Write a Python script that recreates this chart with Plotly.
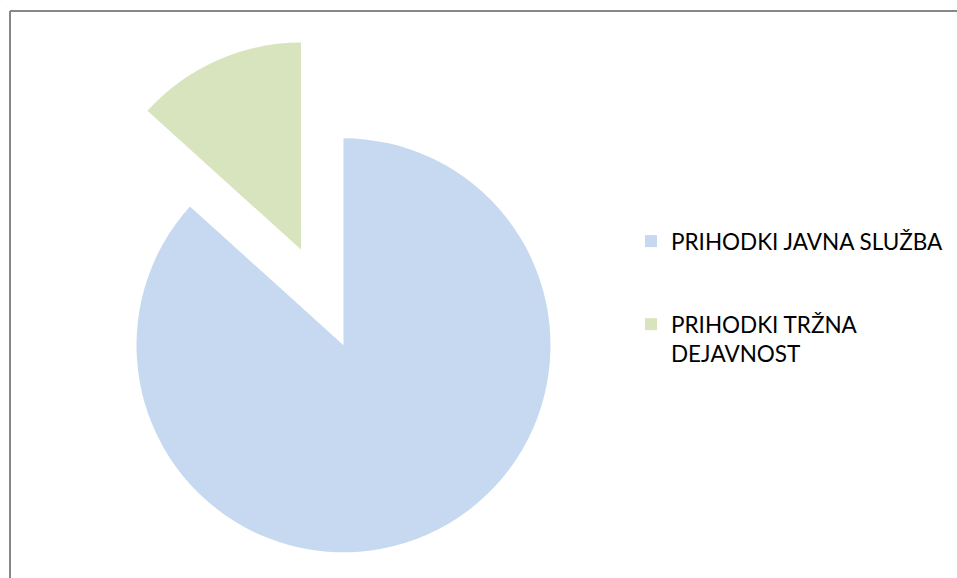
import math
import plotly.graph_objects as go

# ---- data ----
labels = ["PRIHODKI JAVNA SLUŽBA", "PRIHODKI TRŽNA DEJAVNOST"]
legend_text = ["PRIHODKI JAVNA SLUŽBA", "PRIHODKI TRŽNA<br>DEJAVNOST"]
values = [86.7, 13.3]
colors = ["#C6D9F1", "#D7E4BD"]

# ---- layout constants (pixels) ----
W, H = 957, 578
CX, CY, R = 343.5, 345.3, 207.0   # centre / radius of the pie
PULL = 0.506                      # exploded slice offset (fraction of radius)


def domain_for(cx, cy, r):
    return dict(x=[(cx - r) / W, (cx + r) / W],
                y=[1 - (cy + r) / H, 1 - (cy - r) / H])


# direction of exploded (second) slice: bisector of its angle, clockwise from 12 o'clock
total = sum(values)
frac_g = values[1] / total
half = math.pi * frac_g
gx = CX - PULL * R * math.sin(half)
gy = CY - PULL * R * math.cos(half)

transparent = "rgba(0,0,0,0)"
common = dict(labels=labels, values=values, sort=False, direction="clockwise",
              rotation=0, textinfo="none", hoverinfo="label+percent",
              showlegend=False)

fig = go.Figure()
# main pie (first slice)
fig.add_trace(go.Pie(**common, domain=domain_for(CX, CY, R),
                     marker=dict(colors=[colors[0], transparent], line=dict(width=0))))
# exploded slice
fig.add_trace(go.Pie(**common, domain=domain_for(gx, gy, R),
                     marker=dict(colors=[transparent, colors[1]], line=dict(width=0))))
# legend entries
for i, lg in enumerate(["legend", "legend2"]):
    fig.add_trace(go.Pie(labels=[legend_text[i]], values=[values[i]], sort=False,
                         textinfo="none", hoverinfo="skip", showlegend=True, legend=lg,
                         domain=dict(x=[0, 0.0005], y=[0.999, 1]),
                         marker=dict(colors=[colors[i]], line=dict(width=0))))

legend_font = dict(family="Lato, 'Open Sans', sans-serif", size=22.5, color="#000000")
border = dict(color="#878787", width=2)
bx, by = 10 / W, 1 - 11 / H
fig.update_layout(
    width=W, height=H,
    margin=dict(l=0, r=0, t=0, b=0),
    paper_bgcolor="white",
    legend=dict(x=631 / W, y=1 - 220 / H, xanchor="left", yanchor="top",
                font=legend_font, bgcolor="rgba(0,0,0,0)", valign="middle"),
    legend2=dict(x=631 / W, y=1 - 303 / H, xanchor="left", yanchor="top",
                 font=legend_font, bgcolor="rgba(0,0,0,0)", valign="top"),
    shapes=[
        dict(type="line", xref="paper", yref="paper", x0=bx, x1=bx, y0=-0.05, y1=by,
             line=border, layer="above"),
        dict(type="line", xref="paper", yref="paper", x0=bx, x1=1.05, y0=by, y1=by,
             line=border, layer="above"),
    ],
)

fig.write_html("out.html", config={"displayModeBar": False},
               post_script="document.body.style.margin='0';document.body.style.overflow='hidden';")
